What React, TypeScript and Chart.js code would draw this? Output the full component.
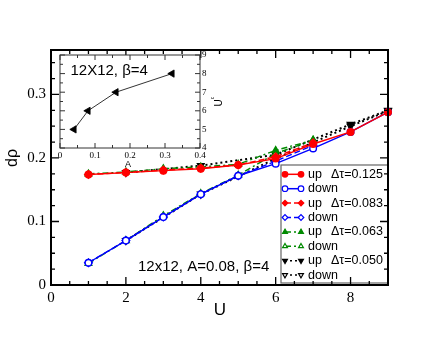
import React, { useEffect, useRef } from 'react';
import { Chart, registerables } from 'chart.js';
import { drawPoint } from 'chart.js/helpers';

Chart.register(...registerables);

// ---------- data ----------
const U125 = [1, 2, 3, 4, 5, 6, 7, 8, 9];
const up125 = [0.174, 0.177, 0.180, 0.183, 0.189, 0.199, 0.222, 0.241, 0.272];
const down125 = [0.035, 0.070, 0.107, 0.143, 0.172, 0.191, 0.215, 0.241, 0.272];

const U083 = [1, 2, 3, 4, 5, 6, 7];
const up083 = [0.174, 0.177, 0.181, 0.184, 0.189, 0.202, 0.224];
const down083 = [0.035, 0.070, 0.107, 0.143, 0.172, 0.195, 0.220];

const U063 = [1, 2, 3, 4, 5, 6, 7];
const up063 = [0.175, 0.178, 0.183, 0.186, 0.190, 0.212, 0.228];
const down063 = [0.034, 0.070, 0.109, 0.144, 0.173, 0.207, 0.228];

const U050 = [2, 4, 6, 8, 9];
const up050 = [0.177, 0.188, 0.205, 0.253, 0.275];
const down050 = [0.070, 0.143, 0.199, 0.250, 0.274];

const legendNames = ['up', 'down', 'up', 'down', 'up', 'down', 'up', 'down'];
const legendDtau = ['Δτ=0.125', '', 'Δτ=0.083', '', 'Δτ=0.063', '', 'Δτ=0.050', ''];

const xTicks = [0, 2, 4, 6, 8];
const yTicks = [0, 0.1, 0.2, 0.3];

const insetA = [0.04, 0.08, 0.16, 0.32];
const insetUc = [5, 6, 7, 8];
const insetXTicks = [0, 0.1, 0.2, 0.3, 0.4];
const insetYTicks = [4, 5, 6, 7, 8, 9];

const SANS = 'Liberation Sans, Arial, sans-serif';
const SERIF = 'Liberation Serif, Times New Roman, serif';

const pts = (xs: number[], ys: number[]) => xs.map((x, i) => ({ x, y: ys[i] }));

function drawTicks(ctx: any, chart: any, xs: { major: number[]; minorStep: number; min: number; max: number },
  ys: { major: number[]; minorStep: number; min: number; max: number }, majLen: number, minLen: number) {
  const a = chart.chartArea;
  const sx = chart.scales.x, sy = chart.scales.y;
  ctx.beginPath();
  for (let v = xs.min; v <= xs.max + 1e-9; v += xs.minorStep) {
    const isMaj = xs.major.some((m) => Math.abs(m - v) < 1e-9);
    const L = isMaj ? majLen : minLen;
    const px = sx.getPixelForValue(v);
    ctx.moveTo(px, a.bottom); ctx.lineTo(px, a.bottom - L);
    ctx.moveTo(px, a.top); ctx.lineTo(px, a.top + L);
  }
  for (let v = ys.min; v <= ys.max + 1e-9; v += ys.minorStep) {
    const isMaj = ys.major.some((m) => Math.abs(m - v) < 1e-9);
    const L = isMaj ? majLen : minLen;
    const py = sy.getPixelForValue(v);
    ctx.moveTo(a.left, py); ctx.lineTo(a.left + L, py);
    ctx.moveTo(a.right, py); ctx.lineTo(a.right - L, py);
  }
  ctx.stroke();
}

const mainDecor = {
  id: 'mainDecor',
  afterDraw(chart: any) {
    const ctx = chart.ctx;
    const a = chart.chartArea;
    ctx.save();
    // annotation
    ctx.fillStyle = '#000';
    ctx.font = `15px ${SANS}`;
    ctx.textAlign = 'left';
    ctx.textBaseline = 'middle';
    ctx.fillText('12x12, A=0.08, β=4', 138, 267);

    // legend box
    const bx = 281, by = 165, bw = a.right - 281, bh = a.bottom - 2 - 165;
    ctx.fillStyle = '#fff';
    ctx.fillRect(bx, by, bw, bh);
    ctx.strokeStyle = '#666';
    ctx.lineWidth = 1.2;
    ctx.strokeRect(bx, by, bw, bh);
    chart.data.datasets.forEach((ds: any, i: number) => {
      const y = 174.3 + i * 14.4;
      ctx.save();
      ctx.strokeStyle = ds.borderColor;
      ctx.lineWidth = 1.5;
      ctx.setLineDash(ds.borderDash || []);
      ctx.beginPath();
      ctx.moveTo(285, y); ctx.lineTo(301, y);
      ctx.stroke();
      ctx.setLineDash([]);
      ctx.fillStyle = ds.pointBackgroundColor;
      ctx.strokeStyle = ds.pointBorderColor;
      ctx.lineWidth = 1.2;
      const po = { pointStyle: ds.pointStyle, rotation: ds.pointRotation || 0, radius: 2.8, borderWidth: 1.2 };
      drawPoint(ctx, po, 285, y);
      drawPoint(ctx, po, 301, y);
      ctx.restore();
      ctx.fillStyle = '#000';
      ctx.font = `12.5px ${SANS}`;
      ctx.textBaseline = 'middle';
      ctx.fillText(legendNames[i], 308, y);
      if (legendDtau[i]) ctx.fillText(legendDtau[i], 331, y);
    });

    // frame + ticks
    ctx.strokeStyle = '#000';
    ctx.lineWidth = 1.3;
    drawTicks(ctx, chart, { major: xTicks, minorStep: 0.5, min: 0, max: 9 },
      { major: yTicks, minorStep: 0.025, min: 0, max: 0.37 }, 8, 4);
    ctx.lineWidth = 2;
    ctx.strokeRect(a.left, a.top, a.right - a.left, a.bottom - a.top);

    // axis titles
    ctx.fillStyle = '#000';
    ctx.font = `17px ${SANS}`;
    ctx.textAlign = 'center';
    ctx.textBaseline = 'middle';
    ctx.fillText('U', 220, 310);
    ctx.font = `16px ${SANS}`;
    ctx.translate(13, 158);
    ctx.rotate(-Math.PI / 2);
    ctx.fillText('dρ', 0, 0);
    ctx.restore();
  },
};

const insetDecor = {
  id: 'insetDecor',
  beforeDatasetsDraw(chart: any) {
    const ctx = chart.ctx;
    const a = chart.chartArea;
    ctx.save();
    ctx.fillStyle = '#fff';
    ctx.fillRect(a.left, a.top, a.right - a.left, a.bottom - a.top);
    ctx.restore();
  },
  afterDraw(chart: any) {
    const ctx = chart.ctx;
    const a = chart.chartArea;
    ctx.save();
    ctx.strokeStyle = '#333';
    ctx.lineWidth = 1;
    drawTicks(ctx, chart, { major: insetXTicks, minorStep: 0.05, min: 0, max: 0.4 },
      { major: insetYTicks, minorStep: 0.5, min: 4, max: 9 }, 5, 3);
    ctx.strokeRect(a.left, a.top, a.right - a.left, a.bottom - a.top);
    ctx.fillStyle = '#000';
    ctx.font = `15px ${SANS}`;
    ctx.textAlign = 'left';
    ctx.textBaseline = 'middle';
    ctx.fillText('12X12, β=4', a.left + 10.5, a.top + 16);
    ctx.font = `9px ${SANS}`;
    ctx.textAlign = 'center';
    ctx.fillText('A', (a.left + a.right) / 2 - 2, a.bottom + 17);
    ctx.translate(179, 58);
    ctx.rotate(-Math.PI / 2);
    ctx.font = `10px ${SANS}`;
    ctx.fillText('U', 0, 0);
    ctx.font = `5px ${SANS}`;
    ctx.fillText('c', 5, -6);
    ctx.restore();
  },
};

export default function App() {
  const mainRef = useRef<HTMLCanvasElement>(null);
  const insetRef = useRef<HTMLCanvasElement>(null);

  useEffect(() => {
    const mk = (label: string, xs: number[], ys: number[], color: string, style: string, filled: boolean, dash: number[], rot = 0, lw = 1.4) => ({
      label,
      data: pts(xs, ys),
      borderColor: color,
      backgroundColor: color,
      borderWidth: lw,
      borderDash: dash,
      pointStyle: style,
      pointRotation: rot,
      pointRadius: style === 'circle' ? 3.3 : 3.8,
      pointBorderWidth: 1.4,
      pointBackgroundColor: filled ? color : '#fff',
      pointBorderColor: color,
      showLine: true,
      tension: 0,
      clip: false as any,
    });
    const RED = '#ff0000', BLUE = '#0000ff', GREEN = '#008a00', BLACK = '#000000';
    const datasets = [
      mk('up Δτ=0.125', U125, up125, RED, 'circle', true, []),
      mk('down', U125, down125, BLUE, 'circle', false, []),
      mk('up Δτ=0.083', U083, up083, RED, 'rectRot', true, [6, 3]),
      mk('down', U083, down083, BLUE, 'rectRot', false, [6, 3]),
      mk('up Δτ=0.063', U063, up063, GREEN, 'triangle', true, [6, 3, 2, 3]),
      mk('down', U063, down063, GREEN, 'triangle', false, [6, 3, 2, 3]),
      mk('up Δτ=0.050', U050, up050, BLACK, 'triangle', true, [2, 3], 180, 2),
      mk('down', U050, down050, BLACK, 'triangle', false, [2, 3], 180, 2),
    ];

    const main = new Chart(mainRef.current!, {
      type: 'scatter',
      data: { datasets },
      options: {
        responsive: false,
        animation: false,
        layout: { padding: { left: 0, top: 50, right: 48, bottom: 0 } },
        plugins: { legend: { display: false }, tooltip: { enabled: false } },
        scales: {
          x: {
            type: 'linear', min: 0, max: 9,
            afterBuildTicks: (s: any) => { s.ticks = xTicks.map((v) => ({ value: v })); },
            afterFit: (s: any) => { s.height = 52; },
            grid: { display: false, drawTicks: false },
            border: { display: false },
            ticks: { color: '#000', padding: 4, maxRotation: 0, autoSkip: false, font: { family: SERIF, size: 15 }, callback: (v: any) => String(v) },
          },
          y: {
            type: 'linear', min: 0, max: 0.37,
            afterBuildTicks: (s: any) => { s.ticks = yTicks.map((v) => ({ value: v })); },
            afterFit: (s: any) => { s.width = 51; },
            grid: { display: false, drawTicks: false },
            border: { display: false },
            ticks: { color: '#000', padding: 5, autoSkip: false, font: { family: SERIF, size: 15 }, callback: (v: any) => (v === 0 ? '0' : Number(v).toFixed(1)) },
          },
        },
      },
      plugins: [mainDecor],
    } as any);

    const inset = new Chart(insetRef.current!, {
      type: 'scatter',
      data: {
        datasets: [{
          label: 'Uc',
          data: pts(insetA, insetUc),
          borderColor: '#000',
          backgroundColor: '#000',
          borderWidth: 0.8,
          showLine: true,
          pointStyle: 'triangle',
          pointRotation: -90,
          pointRadius: 4.2,
          pointBackgroundColor: '#000',
          pointBorderColor: '#000',
          clip: false,
        }],
      },
      options: {
        responsive: false,
        animation: false,
        layout: { padding: { left: 20, top: 10, right: 0, bottom: 0 } },
        plugins: { legend: { display: false }, tooltip: { enabled: false } },
        scales: {
          x: {
            type: 'linear', min: 0, max: 0.4,
            afterBuildTicks: (s: any) => { s.ticks = insetXTicks.map((v) => ({ value: v })); },
            afterFit: (s: any) => { s.height = 27; },
            grid: { display: false, drawTicks: false },
            border: { display: false },
            ticks: { color: '#000', padding: 2, maxRotation: 0, autoSkip: false, font: { family: SERIF, size: 9 }, callback: (v: any) => (v === 0 ? '0' : Number(v).toFixed(1)) },
          },
          y: {
            type: 'linear', position: 'right', min: 4, max: 9,
            afterBuildTicks: (s: any) => { s.ticks = insetYTicks.map((v) => ({ value: v })); },
            afterFit: (s: any) => { s.width = 30; },
            grid: { display: false, drawTicks: false },
            border: { display: false },
            ticks: { color: '#000', padding: 2, autoSkip: false, font: { family: SERIF, size: 9 }, callback: (v: any) => String(v) },
          },
        },
      },
      plugins: [insetDecor],
    } as any);

    return () => { main.destroy(); inset.destroy(); };
  }, []);

  return (
    <div style={{ position: 'absolute', left: 0, top: 0, width: 436, height: 337, background: '#fff' }}>
      <canvas ref={mainRef} width={436} height={337} style={{ position: 'absolute', left: 0, top: 0, width: 436, height: 337 }} />
      <canvas ref={insetRef} width={190} height={130} style={{ position: 'absolute', left: 40, top: 45, width: 190, height: 130 }} />
    </div>
  );
}
